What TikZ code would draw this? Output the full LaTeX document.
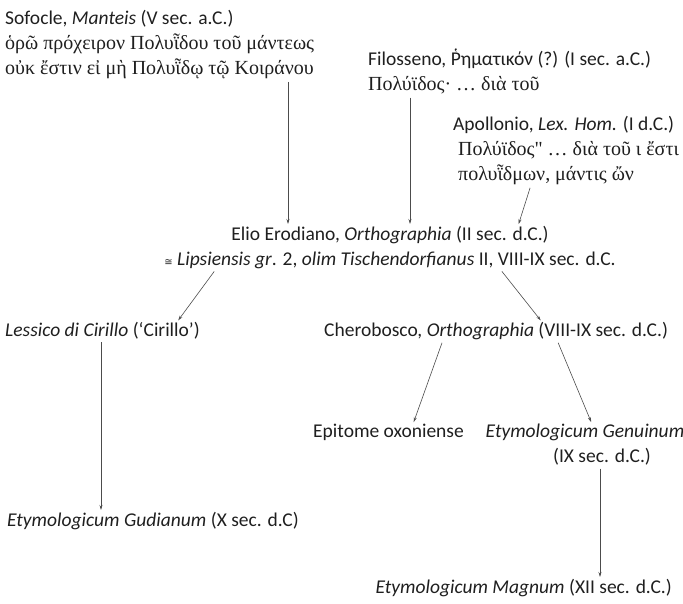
\documentclass[tikz,border=0pt]{standalone}
\usepackage{fontspec}
\setmainfont{Carlito}
\newfontfamily\grk{Liberation Serif}
\newfontfamily\symf{DejaVu Sans}
\usetikzlibrary{arrows.meta}
\begin{document}
\begin{tikzpicture}[x=1pt,y=-1pt,
  txt/.style={inner sep=0pt, text=black!88, font=\fontsize{19.5}{25}\selectfont},
  arr/.style={draw=black!70, line width=0.6pt, -{Stealth[length=5pt,width=3pt]}, shorten <=3pt, shorten >=2pt}]
\useasboundingbox (0,0) rectangle (683,604);
\newcommand{\G}[1]{{\grk\fontsize{20}{25}\selectfont #1}}
\node[txt, anchor=north west, align=left] (sof) at (5,10)
  {Sofocle, \textit{Manteis} (V sec. a.C.)\\
   \G{ὁρῶ πρόχειρον Πολυῗδου τοῦ μάντεως}\\
   \G{οὐκ ἔστιν εἰ μὴ Πολυῗδῳ τῷ Κοιράνου}};
\node[txt, anchor=north west, align=left] (fil) at (368,49)
  {Filosseno, Ῥηματικόν (?) (I sec. a.C.)\\
   \G{Πολύϊδος· … διὰ τοῦ}};
\node[txt, anchor=north west, align=left] (apo) at (453,116)
  {Apollonio, \textit{Lex. Hom.} (I d.C.)\\
   \G{\ Πολύϊδος" … διὰ τοῦ ι ἔστι}\\
   \G{\ πολυῗδμων, μάντις ὤν}};
\node[txt, anchor=north, align=center] (eli) at (390,226)
  {Elio Erodiano, \textit{Orthographia} (II sec. d.C.)\\
   {\symf\fontsize{10}{10}\selectfont ≅} \textit{Lipsiensis gr}. 2, \textit{olim Tischendorfianus} II, VIII-IX sec. d.C.};
\node[txt, anchor=north west] (les) at (5,322)
  {\textit{Lessico di Cirillo} (‘Cirillo’)};
\node[txt, anchor=north west] (che) at (324,322)
  {Cherobosco, \textit{Orthographia} (VIII-IX sec. d.C.)};
\node[txt, anchor=north west] (epi) at (313,424)
  {Epitome oxoniense};
\node[txt, anchor=north, align=center] (gen) at (585,424)
  {\textit{Etymologicum Genuinum}\\ \hspace*{34pt}(IX sec. d.C.)};
\node[txt, anchor=north west] (gud) at (7,512)
  {\textit{Etymologicum Gudianum} (X sec. d.C)};
\node[txt, anchor=north east] (mag) at (672,579)
  {\textit{Etymologicum Magnum} (XII sec. d.C.)};
\draw[arr] (sof.south -| 288,0) -- (eli.north -| 288,0);
\draw[arr] (fil.south -| 410,0) -- (eli.north -| 410,0);
\draw[arr] (apo.south -| 531,0) -- (eli.north -| 518,0);
\draw[arr] (eli.south -| 216,0) -- (les.north -| 177,0);
\draw[arr] (eli.south -| 500,0) -- (che.north -| 542,0);
\draw[arr] (les.south -| 101,0) -- (gud.north -| 101,0);
\draw[arr] (che.south -| 443,0) -- (epi.north -| 413,0);
\draw[arr] (che.south -| 557,0) -- (gen.north -| 592,0);
\draw[arr] (gen.south -| 600,0) -- (mag.north -| 600,0);
\end{tikzpicture}
\end{document}
